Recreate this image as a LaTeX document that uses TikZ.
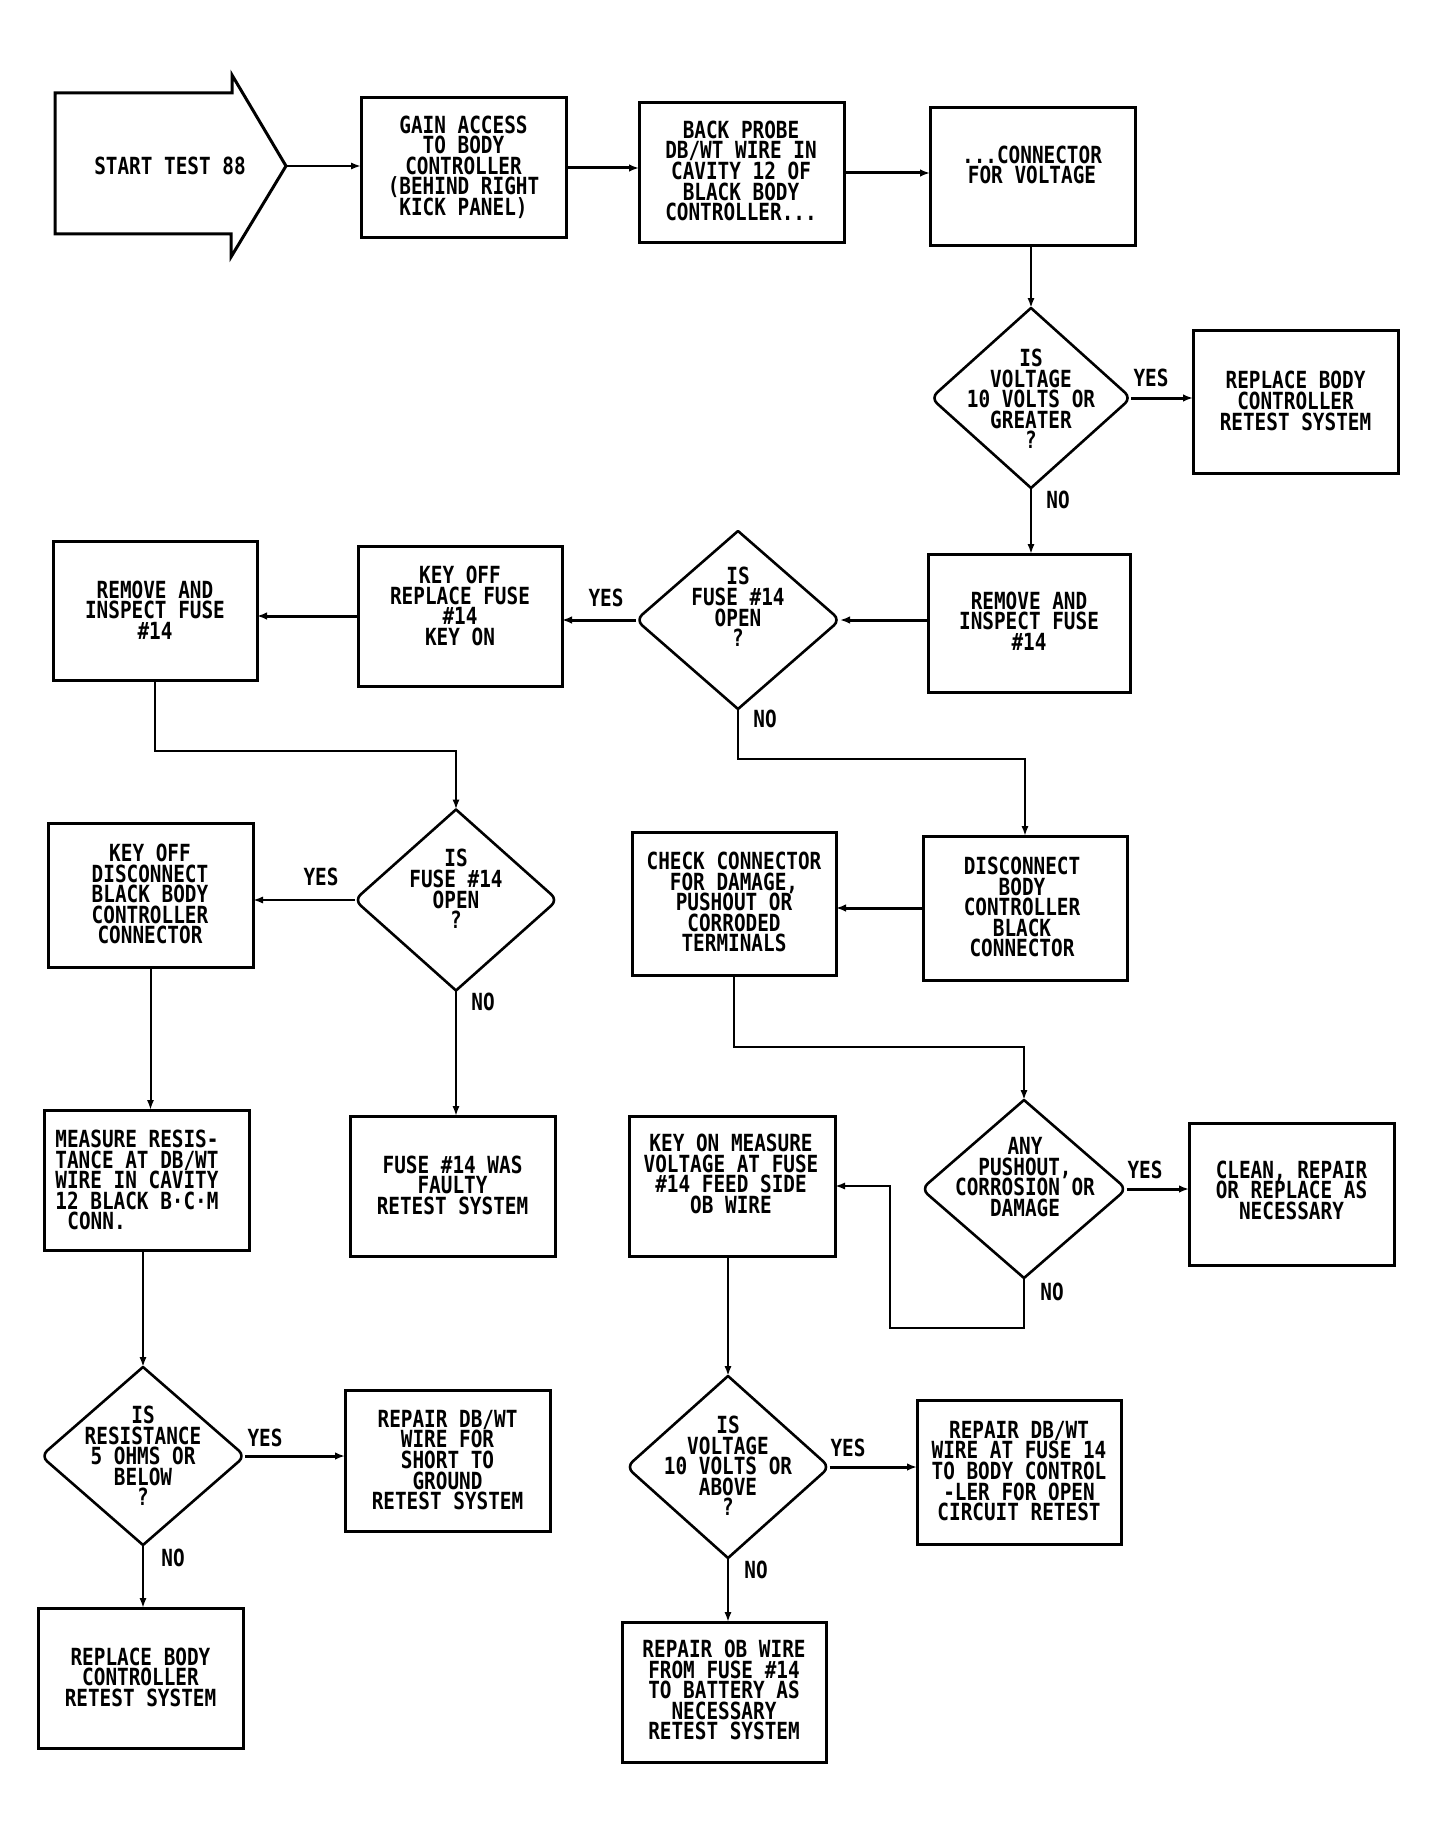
\documentclass[tikz,border=0pt]{standalone}
\usepackage{fontspec}
\newfontfamily\plotfont{DejaVu Sans Mono}[FakeStretch=0.82]
\usetikzlibrary{shapes.geometric,arrows.meta}
\newcommand\plottight{\lineskiplimit-20pt\relax\lineskip0pt\relax}
\tikzset{
  box/.style 2 args={draw, line width=1.5pt, minimum width=#1*0.5pt, minimum height=#2*0.5pt, inner sep=0pt, outer sep=0pt},
  dia/.style 2 args={diamond, draw=none, minimum width=#1*0.5pt, minimum height=#2*0.5pt, inner sep=0pt, outer sep=0pt},
  diaedge/.style={line width=1.3pt, rounded corners=4pt, line cap=round, line join=round},
  txt/.style={font=\plotfont\bfseries\fontsize{11.8pt}{10.3pt}\selectfont, align=center, inner sep=0pt, execute at begin node=\plottight},
  conn/.style={line width=1pt, -{Latex[length=5pt,width=3.6pt]}},
  hconn/.style={line width=1.5pt, -{Latex[length=5pt,width=3.8pt]}},
  startshape/.style={line width=1.5pt, line join=miter}
}
\newcommand\diaoutline[1]{%
  \draw[diaedge] (#1.north) -- (#1.east) -- (#1.south);
  \draw[diaedge] (#1.north) -- (#1.west) -- (#1.south);}
\begin{document}
\begin{tikzpicture}[x=0.5pt,y=-0.5pt]
\fill[white] (0,0) rectangle (1436,1835);
\useasboundingbox (0,0) rectangle (1436,1835);

% start arrow
\draw[startshape] (55,93) -- (232,93) -- (232,75) -- (286,166) -- (231,257) -- (231,234) -- (55,234) -- cycle;
\coordinate (starttip) at (286,166);
\node[txt] (start) at (170,166) {START TEST 88};

% boxes
\node[box={205}{140}] (gain) at (463.5,168) {};
\node[box={205}{140}] (probe) at (741.5,173) {};
\node[box={205}{138}] (conn) at (1032.5,177) {};
\node[box={205}{143}] (rep1) at (1295.5,401.5) {};
\node[box={204}{139}] (rem1) at (155,610.5) {};
\node[box={204}{140}] (keyoff1) at (460,616) {};
\node[box={202}{138}] (rem2) at (1029,623) {};
\node[box={205}{144}] (keyoff2) at (150.5,895) {};
\node[box={204}{143}] (check) at (734,903.5) {};
\node[box={204}{144}] (disc) at (1025,908) {};
\node[box={205}{140}] (measure) at (146.5,1180) {};
\node[box={205}{140}] (fuse) at (452.5,1186) {};
\node[box={206}{140}] (keyon) at (732,1186) {};
\node[box={205}{142}] (clean) at (1291.5,1194) {};
\node[box={205}{141}] (rs) at (447.5,1460.5) {};
\node[box={204}{144}] (rdb) at (1019,1472) {};
\node[box={205}{140}] (rb) at (140.5,1678) {};
\node[box={204}{140}] (rob) at (724,1692) {};

% diamonds
\node[dia={200}{180}] (d1) at (1031,398) {};
\node[dia={204}{178}] (d2) at (738,620) {};
\node[dia={203}{181}] (d3) at (456,900) {};
\node[dia={205}{178}] (d4) at (1024,1189) {};
\node[dia={204}{178}] (d5) at (143,1456) {};
\node[dia={203}{182}] (d6) at (728,1467) {};
\diaoutline{d1}
\diaoutline{d2}
\diaoutline{d3}
\diaoutline{d4}
\diaoutline{d5}
\diaoutline{d6}

% texts
\node[txt] (t-gain) at (463.5,167) {GAIN ACCESS\\TO BODY\\CONTROLLER\\(BEHIND RIGHT\\KICK PANEL)};
\node[txt] (t-probe) at (741,171) {BACK PROBE\\DB/WT WIRE IN\\CAVITY 12 OF\\BLACK BODY\\CONTROLLER...};
\node[txt] (t-conn) at (1032,165) {...CONNECTOR\\FOR VOLTAGE};
\node[txt] (t-d1) at (1031,399) {IS\\VOLTAGE\\10 VOLTS OR\\GREATER\\?};
\node[txt] (t-rep1) at (1295.5,401) {REPLACE BODY\\CONTROLLER\\RETEST SYSTEM};
\node[txt] (t-rem1) at (155,610) {REMOVE AND\\INSPECT FUSE\\\#14};
\node[txt] (t-keyoff1) at (460,606) {KEY OFF\\REPLACE FUSE\\\#14\\KEY ON};
\node[txt] (t-d2) at (738,607) {IS\\FUSE \#14\\OPEN\\?};
\node[txt] (t-rem2) at (1029,621) {REMOVE AND\\INSPECT FUSE\\\#14};
\node[txt] (t-keyoff2) at (150,894) {KEY OFF\\DISCONNECT\\BLACK BODY\\CONTROLLER\\CONNECTOR};
\node[txt] (t-d3) at (456,889) {IS\\FUSE \#14\\OPEN\\?};
\node[txt] (t-check) at (734,902) {CHECK CONNECTOR\\FOR DAMAGE,\\PUSHOUT OR\\CORRODED\\TERMINALS};
\node[txt] (t-disc) at (1022,907) {DISCONNECT\\BODY\\CONTROLLER\\BLACK\\CONNECTOR};
\node[txt, align=left, anchor=west] (t-measure) at (55,1180) {MEASURE RESIS-\\TANCE AT DB/WT\\WIRE IN CAVITY\\12 BLACK B·C·M\\\hspace*{6pt}CONN.};
\node[txt] (t-fuse) at (452.5,1185) {FUSE \#14 WAS\\FAULTY\\RETEST SYSTEM};
\node[txt] (t-keyon) at (731,1174) {KEY ON MEASURE\\VOLTAGE AT FUSE\\\#14 FEED SIDE\\OB WIRE};
\node[txt] (t-d4) at (1025,1177) {ANY\\PUSHOUT,\\CORROSION OR\\DAMAGE};
\node[txt] (t-clean) at (1291.5,1190) {CLEAN, REPAIR\\OR REPLACE AS\\NECESSARY};
\node[txt] (t-d5) at (143,1456) {IS\\RESISTANCE\\5 OHMS OR\\BELOW\\?};
\node[txt] (t-rs) at (447.5,1460) {REPAIR DB/WT\\WIRE FOR\\SHORT TO\\GROUND\\RETEST SYSTEM};
\node[txt] (t-d6) at (728,1466) {IS\\VOLTAGE\\10 VOLTS OR\\ABOVE\\?};
\node[txt] (t-rdb) at (1019,1471) {REPAIR DB/WT\\WIRE AT FUSE 14\\TO BODY CONTROL\\-LER FOR OPEN\\CIRCUIT RETEST};
\node[txt] (t-rb) at (140.5,1677) {REPLACE BODY\\CONTROLLER\\RETEST SYSTEM};
\node[txt] (t-rob) at (724,1690) {REPAIR OB WIRE\\FROM FUSE \#14\\TO BATTERY AS\\NECESSARY\\RETEST SYSTEM};

% yes/no labels
\node[txt] (y1) at (1151,378) {YES};
\node[txt] (n1) at (1058,500) {NO};
\node[txt] (y2) at (606,598) {YES};
\node[txt] (n2) at (765,719) {NO};
\node[txt] (y3) at (321,877) {YES};
\node[txt] (n3) at (483,1002) {NO};
\node[txt] (y4) at (1145,1170) {YES};
\node[txt] (n4) at (1052,1292) {NO};
\node[txt] (y5) at (265,1438) {YES};
\node[txt] (n5) at (173,1558) {NO};
\node[txt] (y6) at (848,1448) {YES};
\node[txt] (n6) at (756,1570) {NO};

% connectors
\draw[conn] (starttip) -- (starttip -| gain.west);
\draw[hconn] (gain.east) -- (gain.east -| probe.west);
\draw[hconn] (probe.east) -- (probe.east -| conn.west);
\draw[conn] (d1.north |- conn.south) -- (d1.north);
\draw[hconn] (d1.east) -- (d1.east -| rep1.west);
\draw[conn] (d1.south) -- (d1.south |- rem2.north);
\draw[hconn] (d2.east -| rem2.west) -- (d2.east);
\draw[hconn] (d2.west) -- (d2.west -| keyoff1.east);
\draw[hconn] (keyoff1.west) -- (keyoff1.west -| rem1.east);
\draw[conn] (rem1.south) -- ++(0,71) -| (d3.north);
\draw[conn] (d2.south) -- ++(0,50) -| (disc.north);
\draw[conn] (d3.west) -- (d3.west -| keyoff2.east);
\draw[conn] (d3.south) -- (d3.south |- fuse.north);
\draw[hconn] (disc.west) -- (disc.west -| check.east);
\draw[conn] (check.south) -- ++(0,72) -| (d4.north);
\draw[hconn] (d4.east) -- (d4.east -| clean.west);
\coordinate (loopc) at (890,1328);
\draw[conn] (d4.south) |- (loopc) |- (keyon.east);
\draw[conn] (keyoff2.south) -- (keyoff2.south |- measure.north);
\draw[conn] (d5.north |- measure.south) -- (d5.north);
\draw[hconn] (d5.east) -- (d5.east -| rs.west);
\draw[conn] (d5.south) -- (d5.south |- rb.north);
\draw[conn] (d6.north |- keyon.south) -- (d6.north);
\draw[hconn] (d6.east) -- (d6.east -| rdb.west);
\draw[conn] (d6.south) -- (d6.south |- rob.north);
\end{tikzpicture}
\end{document}
